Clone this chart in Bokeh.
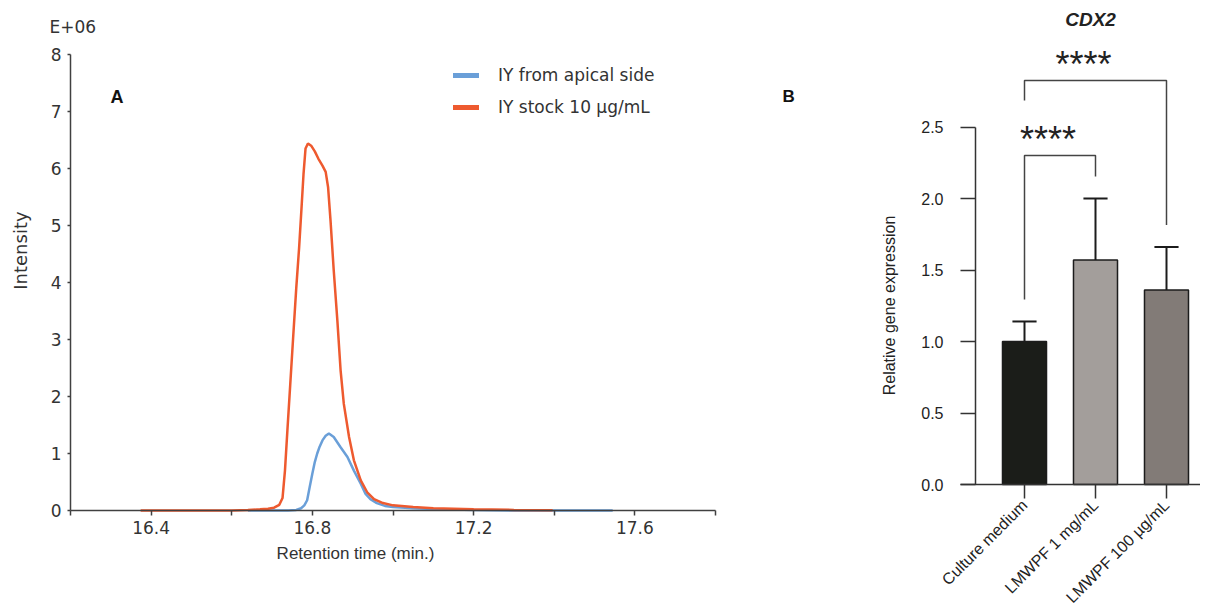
import math
from bokeh.plotting import figure
from bokeh.layouts import row
from bokeh.models import Range1d, FixedTicker, Label, Legend, LegendItem, PrintfTickFormatter
from bokeh.embed import file_html
from bokeh.resources import INLINE

# ---------------- Panel A data (intensity in E+06) ----------------
series_names = ["IY from apical side", "IY stock 10 µg/mL"]
apical_time = [16.64, 16.70, 16.74, 16.76, 16.772, 16.780, 16.787, 16.793, 16.800, 16.806,
               16.812, 16.818, 16.825, 16.833, 16.841, 16.853, 16.870, 16.887, 16.903, 16.920,
               16.932, 16.944, 16.96, 16.98, 17.00, 17.05, 17.10, 17.20, 17.30, 17.40, 17.545]
apical_int = [0, 0, 0, 0.01, 0.04, 0.09, 0.18, 0.4, 0.65, 0.85,
              1.0, 1.12, 1.23, 1.31, 1.35, 1.29, 1.11, 0.94, 0.70, 0.47,
              0.29, 0.2, 0.13, 0.08, 0.06, 0.04, 0.025, 0.01, 0, 0, 0]
stock_time = [16.374, 16.50, 16.60, 16.64, 16.67, 16.69, 16.705, 16.718, 16.726, 16.732,
              16.738, 16.745, 16.752, 16.760, 16.767, 16.773, 16.778, 16.783, 16.789, 16.797,
              16.806, 16.815, 16.825, 16.833, 16.839, 16.845, 16.853, 16.862, 16.870, 16.878,
              16.891, 16.903, 16.920, 16.936, 16.953, 16.975, 17.00, 17.05, 17.10, 17.20,
              17.30, 17.396]
stock_int = [0, 0, 0, 0.01, 0.02, 0.03, 0.05, 0.10, 0.22, 0.7,
             1.4, 2.2, 3.0, 3.9, 4.6, 5.3, 5.9, 6.35, 6.44, 6.40,
             6.30, 6.17, 6.05, 5.94, 5.67, 5.09, 4.21, 3.33, 2.46, 1.87,
             1.29, 0.88, 0.53, 0.32, 0.2, 0.13, 0.09, 0.06, 0.04, 0.02,
             0.01, 0.005]
a_x_labelled = [16.4, 16.8, 17.2, 17.6]
a_x_minor = [16.2, 16.6, 17.0, 17.4, 17.8]
a_y_ticks = [0, 1, 2, 3, 4, 5, 6, 7, 8]

# ---------------- Panel B data ----------------
gene = "CDX2"
categories = ["Culture medium", "LMWPF 1 mg/mL", "LMWPF 100 µg/mL"]
rel_expression = [1.0, 1.57, 1.36]
error_up = [0.14, 0.43, 0.30]
bar_colors = ["#1b1d19", "#a39e9b", "#827b77"]
comparisons = [(0, 1), (0, 2)]
significance = ["****", "****"]
b_y_ticks = [0.0, 0.5, 1.0, 1.5, 2.0, 2.5]

BLUE = "#6a9fd8"
ORANGE = "#ee5a2f"
AX = "#404040"
H = 610

# ================= Panel A =================
WA = 745
ax_px, ay_px = 403.125, 57.0          # pixels per data unit
x0a = 16.2 - 70 / ax_px
y0a = -(H - 510) / ay_px
pa = figure(width=WA, height=H, output_backend="svg", toolbar_location=None,
            x_range=Range1d(x0a, x0a + WA / ax_px), y_range=Range1d(y0a, y0a + H / ay_px),
            min_border=0)
pa.title.visible = False
pa.grid.visible = False
pa.outline_line_color = None
pa.background_fill_color = "white"
pa.border_fill_color = "white"

pa.line(apical_time, apical_int, line_color=BLUE, line_width=2.5)
pa.line(stock_time, stock_int, line_color=ORANGE, line_width=2.5)

# legend swatches (thicker than the traces), kept outside the visible range
off_x = [x0a - 1, x0a - 0.9]
off_y = [y0a - 1, y0a - 1]
leg_b = pa.line(x=off_x, y=off_y, line_color=BLUE, line_width=5, line_cap="round")
leg_o = pa.line(x=off_x, y=off_y, line_color=ORANGE, line_width=5, line_cap="round")
legend = Legend(items=[LegendItem(label=series_names[0], renderers=[leg_b]),
                       LegendItem(label=series_names[1], renderers=[leg_o])],
                location=(453, H - 117), padding=0, margin=0, spacing=12,
                glyph_width=26, glyph_height=20, label_height=20, label_standoff=19,
                border_line_color=None, background_fill_alpha=0,
                label_text_font="DejaVu Sans", label_text_font_size="17px",
                label_text_color="#333333")
pa.add_layout(legend)

for ax in (pa.xaxis, pa.yaxis):
    ax.axis_line_color = AX
    ax.axis_line_width = 1.5
    ax.major_tick_line_color = AX
    ax.minor_tick_line_color = AX
    ax.major_tick_line_width = 1.5
    ax.minor_tick_line_width = 1.5
    ax.major_tick_in = 0
    ax.minor_tick_in = 0
    ax.major_label_text_font = "DejaVu Sans"
    ax.major_label_text_font_size = "17px"
    ax.major_label_text_color = "#333333"

pa.xaxis.fixed_location = 0
pa.xaxis.bounds = (16.2, 17.8)
pa.xaxis.ticker = FixedTicker(ticks=a_x_labelled, minor_ticks=a_x_minor)
pa.xaxis.major_tick_out = 5
pa.xaxis.minor_tick_out = 5
pa.xaxis.major_label_standoff = 5
pa.yaxis.fixed_location = 16.2
pa.yaxis.bounds = (0, 8)
pa.yaxis.ticker = FixedTicker(ticks=a_y_ticks)
pa.yaxis.major_tick_out = 3
pa.yaxis.minor_tick_out = 0
pa.yaxis.major_label_standoff = 6

pa.add_layout(Label(x=16.148, y=8.474, text="E+06", text_font="DejaVu Sans",
                    text_font_size="17px", text_color="#333333",
                    text_align="left", text_baseline="middle"))
pa.add_layout(Label(x=16.076, y=4.56, text="Intensity", angle=math.pi / 2,
                    text_font="DejaVu Sans", text_font_size="18px", text_color="#333333",
                    text_align="center", text_baseline="middle"))
pa.add_layout(Label(x=16.907, y=-0.754, text="Retention time (min.)",
                    text_font="Liberation Sans", text_font_size="17px", text_color="#333333",
                    text_align="center", text_baseline="middle"))
pa.add_layout(Label(x=16.299, y=7.26, text="A", text_font="Liberation Sans",
                    text_font_style="bold", text_font_size="18px", text_color="#111111",
                    text_align="left", text_baseline="middle"))

# ================= Panel B =================
WB = 1200 - WA
bx_px, by_px = 71.0, 143.0
idx = list(range(len(categories)))
x0b = -(1024 - WA) / bx_px
y0b = -(H - 484) / by_px
pb = figure(width=WB, height=H, output_backend="svg", toolbar_location=None,
            x_range=Range1d(x0b, x0b + WB / bx_px), y_range=Range1d(y0b, y0b + H / by_px),
            min_border=0)
pb.title.visible = False
pb.grid.visible = False
pb.outline_line_color = None
pb.background_fill_color = "white"
pb.border_fill_color = "white"

DARK = "#1c1c1c"
pb.vbar(x=idx, top=rel_expression, width=0.62, fill_color=bar_colors,
        line_color=DARK, line_width=1.5)
err_top = [v + e for v, e in zip(rel_expression, error_up)]
pb.segment(x0=idx, y0=rel_expression, x1=idx, y1=err_top, line_color=DARK, line_width=2)
pb.segment(x0=[i - 0.17 for i in idx], y0=err_top, x1=[i + 0.17 for i in idx], y1=err_top,
           line_color=DARK, line_width=2)

BR = "#444444"
for k, ((a, b), star) in enumerate(zip(comparisons, significance)):
    yb = max(err_top[a:b + 1]) + 0.30 + k * 0.525
    left_bottom = err_top[a] + 0.154 if k == 0 else yb - 0.14
    right_bottom = err_top[b] + 0.154
    pb.line(x=[a, a, b, b], y=[left_bottom, yb, yb, right_bottom],
            line_color=BR, line_width=1.5)
    pb.add_layout(Label(x=(a + b) / 2 - 0.17, y=yb + 0.11, text=star,
                        text_font="Liberation Sans", text_font_size="36px",
                        text_color="#222222", text_align="center",
                        text_baseline="alphabetic"))

pb.add_layout(Label(x=0.93, y=3.25, text=gene, text_font="Liberation Sans",
                    text_font_style="bold italic", text_font_size="19px",
                    text_color="#222222", text_align="center", text_baseline="middle"))
pb.add_layout(Label(x=-3.408, y=2.713, text="B", text_font="Liberation Sans",
                    text_font_style="bold", text_font_size="17px", text_color="#111111",
                    text_align="left", text_baseline="middle"))
pb.add_layout(Label(x=-1.901, y=1.252, text="Relative gene expression", angle=math.pi / 2,
                    text_font="Liberation Sans", text_font_size="16px", text_color="#222222",
                    text_align="center", text_baseline="middle"))

y_axis_x = -(1024 - 975) / bx_px
for ax in (pb.xaxis, pb.yaxis):
    ax.axis_line_color = "#333333"
    ax.axis_line_width = 1.5
    ax.major_tick_line_color = "#333333"
    ax.major_tick_line_width = 1.5
    ax.major_tick_in = 0
    ax.minor_tick_line_color = None
    ax.major_label_text_font = "Liberation Sans"
    ax.major_label_text_color = "#222222"

pb.yaxis.fixed_location = y_axis_x
pb.yaxis.ticker = FixedTicker(ticks=b_y_ticks)
pb.yaxis.formatter = PrintfTickFormatter(format="%.1f")
pb.yaxis.bounds = (0, 2.5)
pb.yaxis.major_tick_out = 15
pb.yaxis.major_label_standoff = 17
pb.yaxis.major_label_text_font_size = "16px"

pb.xaxis.fixed_location = 0
pb.xaxis.bounds = (y_axis_x - 15 / bx_px, x0b + WB / bx_px)
pb.xaxis.ticker = FixedTicker(ticks=idx)
pb.xaxis.major_label_overrides = {i: c for i, c in zip(idx, categories)}
pb.xaxis.major_label_orientation = math.pi / 4
pb.xaxis.major_tick_out = 14
pb.xaxis.major_label_standoff = 4
pb.xaxis.major_label_text_font_size = "16px"

layout = row(pa, pb)
open("out.html", "w").write(file_html(layout, INLINE))
